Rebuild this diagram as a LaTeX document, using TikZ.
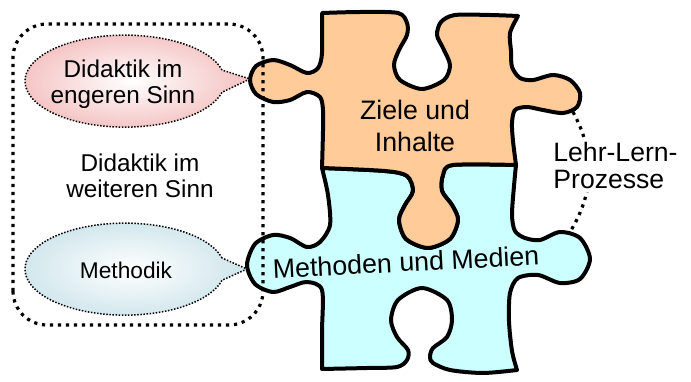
\documentclass[tikz,border=0pt]{standalone}
\usepackage{fontspec}
\setmainfont{Liberation Sans}
\definecolor{zielefill}{RGB}{255,204,153}
\definecolor{methfill}{RGB}{204,255,255}
\definecolor{engpink}{RGB}{244,192,192}
\definecolor{methgray}{RGB}{206,229,235}

\begin{document}
\begin{tikzpicture}[x=0.5pt, y=0.5pt,
    piece/.style={draw=black, line width=2pt, line join=round},
    bubble/.style={line width=0.75pt, dash pattern=on 0.75pt off 0.8pt},
    dotline/.style={line width=1.6pt, dash pattern=on 1.6pt off 2.4pt},
    txt/.style={inner sep=0pt, align=center}]

\useasboundingbox (0,0) rectangle (691,381);

% Methoden und Medien (lower piece)
\filldraw[piece, fill=methfill]
    plot[smooth] coordinates {(322,213) (385,210) (407,205) (413,190) (405,176) (399,161) (406,142) (428,133) (450,142) (458,161) (452,176) (442,190) (443,206) (453,216) (516,216)}
 -- plot[smooth] coordinates {(516,216) (514,195) (512,166) (515,150) (525,143) (540,141) (560,149) (580,143) (590,122) (580,102) (560,98) (538,106) (518,103) (510,88) (509,60) (512,30) (517,11)}
 -- plot[smooth] coordinates {(517,11) (483,8) (450,11) (433,18) (430,24) (433,33) (447,44) (452,61) (447,81) (422,93) (398,81) (391,61) (397,44) (408,31) (407,21) (397,14) (367,13) (322,12)}
 -- plot[smooth] coordinates {(322,12) (322,50) (322,91) (307,99) (290,94) (273,89) (255,97) (247,116) (255,137) (273,146) (290,143) (307,134) (320,139) (330,156) (328,186) (322,213)}
 -- cycle;

% Ziele und Inhalte (upper piece)
\filldraw[piece, fill=zielefill]
    plot[smooth] coordinates {(322,368) (360,369) (398,368) (407,358) (407,346) (399,331) (394,316) (400,301) (422,292) (444,301) (450,316) (443,333) (437,346) (441,359) (455,366) (490,366) (518,365)}
 -- plot[smooth] coordinates {(518,365) (510,348) (511,330) (512,314) (520,303) (533,301) (553,306) (570,301) (580,288) (577,274) (563,268) (543,271) (527,274) (515,271) (512,258) (513,240) (516,216)}
 -- plot[smooth] coordinates {(516,216) (453,216) (443,206) (442,190) (452,176) (458,161) (450,142) (428,133) (406,142) (399,161) (405,176) (413,190) (407,205) (385,210) (322,213)}
 -- plot[smooth] coordinates {(322,213) (323,250) (323,271) (320,284) (307,289) (290,281) (273,279) (256,287) (250,301) (256,315) (273,321) (290,316) (307,308) (318,313) (322,328) (322,368)}
 -- cycle;

% Speech bubbles
\draw[bubble, inner color=white, outer color=engpink]
    (222,311) arc[start angle=14, end angle=346, x radius=100, y radius=46]
    -- (250,302) -- cycle;
\draw[bubble, inner color=white, outer color=methgray]
    (222,123) arc[start angle=14, end angle=346, x radius=100, y radius=46]
    -- (247,112) -- cycle;

% Dotted frame
\draw[dotline, rounded corners=17pt] (13,56) rectangle (263,357);

% Lehr-Lern connection
\coordinate (zieletab) at (573,269);
\coordinate (methtab)  at (570,149);
\draw[dotline] (zieletab) to[bend left=30] (methtab);

% Labels
\node[txt, font=\fontsize{12.15}{13}\selectfont] (engeren)  at (123,297) {Didaktik im\\engeren Sinn};
\node[txt, font=\fontsize{12.15}{13}\selectfont] (weiteren) at (140,205) {Didaktik im\\weiteren Sinn};
\node[txt, font=\fontsize{11.35}{13}\selectfont] (methodik) at (126,111) {Methodik};
\node[txt, font=\fontsize{13.35}{16}\selectfont] (ziele)    at (415,255) {Ziele und\\Inhalte};
\node[txt, font=\fontsize{13.4}{16}\selectfont, rotate=3] (medien) at (406,119) {Methoden und Medien};
\node[txt, align=left, fill=white, inner sep=2pt, anchor=west,
      font=\fontsize{13.3}{13.5}\selectfont] (lehrlern) at (549,216) {Lehr-Lern-\\Prozesse};

\end{tikzpicture}
\end{document}
